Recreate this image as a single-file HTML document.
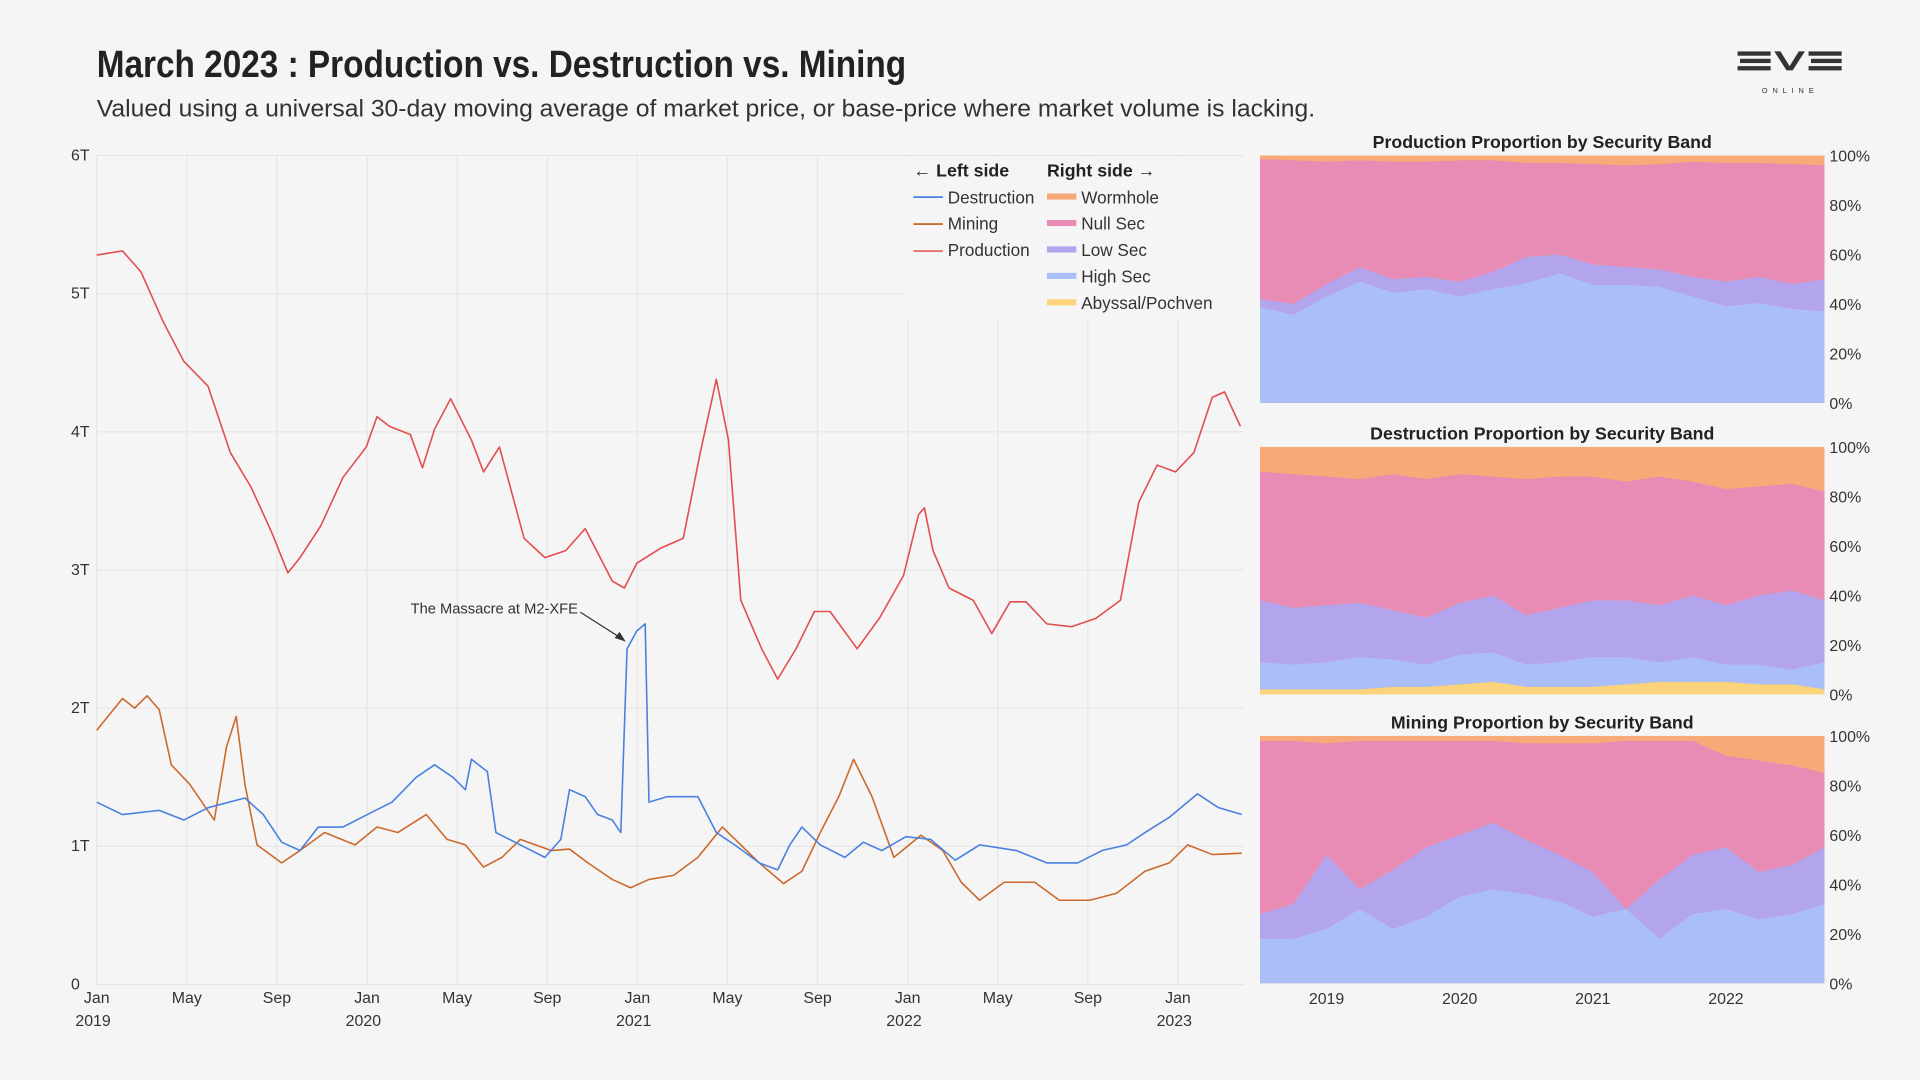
<!DOCTYPE html>
<html><head><meta charset="utf-8"><style>
html,body{margin:0;padding:0;background:#f5f5f5;}
svg{display:block;font-family:"Liberation Sans Narrow","Liberation Sans",sans-serif;}
</style></head><body>
<svg id="s" width="1920" height="1080" viewBox="0 0 1568 882" xmlns="http://www.w3.org/2000/svg">
<rect width="1568" height="882" fill="#f5f5f5"/>
<text x="79" y="63" font-size="31" font-weight="bold" fill="#222" textLength="661" lengthAdjust="spacingAndGlyphs">March 2023 : Production vs. Destruction vs. Mining</text>
<text x="79" y="95" font-size="19.5" fill="#333" textLength="995" lengthAdjust="spacingAndGlyphs">Valued using a universal 30-day moving average of market price, or base-price where market volume is lacking.</text>
<g fill="#333">
<rect x="1419" y="42" width="27" height="3.5"/><rect x="1421" y="48" width="25" height="3.5"/><rect x="1419" y="54" width="27" height="3.5"/>
<polygon points="1449,42 1454,42 1461.5,54 1469,42 1474,42 1464,57.5 1459,57.5"/>
<rect x="1477" y="42" width="27" height="3.5"/><rect x="1479" y="48" width="25" height="3.5"/><rect x="1477" y="54" width="27" height="3.5"/>
<text x="1462" y="76" font-size="6" text-anchor="middle" letter-spacing="4" font-family="Liberation Sans">ONLINE</text>
</g>
<g id="main"></g>
<g id="panels"></g>
</svg>
<script>
// ---------- main chart data (years since Jan 2019, values in trillions ISK)
const prodT=[0,.095,.163,.245,.322,.412,.494,.571,.648,.707,.752,.829,.911,.997,1.037,1.083,1.160,1.205,1.250,1.309,1.386,1.431,1.490,1.581,1.658,1.735,1.807,1.907,1.952,1.998,2.088,2.170,2.233,2.292,2.337,2.383,2.460,2.519,2.587,2.655,2.713,2.813,2.895,2.985,3.040,3.062,3.094,3.153,3.243,3.311,3.379,3.438,3.515,3.606,3.696,3.787,3.855,3.923,3.991,4.059,4.127,4.172,4.231];
const prodV=[5.28,5.31,5.16,4.8,4.51,4.33,3.85,3.6,3.27,2.98,3.09,3.32,3.67,3.89,4.11,4.04,3.98,3.74,4.02,4.24,3.94,3.71,3.89,3.23,3.09,3.14,3.30,2.92,2.87,3.05,3.16,3.23,3.85,4.38,3.94,2.78,2.43,2.21,2.43,2.7,2.7,2.43,2.65,2.96,3.4,3.45,3.14,2.87,2.78,2.54,2.77,2.77,2.61,2.59,2.65,2.78,3.49,3.76,3.71,3.85,4.25,4.29,4.04];
const destT=[0,.095,.231,.322,.412,.548,.616,.684,.752,.820,.911,1.001,1.092,1.182,1.250,1.318,1.364,1.386,1.445,1.477,1.567,1.658,1.717,1.749,1.807,1.853,1.907,1.939,1.962,1.998,2.029,2.043,2.111,2.224,2.292,2.360,2.451,2.519,2.564,2.609,2.677,2.768,2.836,2.904,2.994,3.085,3.176,3.266,3.402,3.515,3.629,3.719,3.810,3.878,3.968,4.072,4.150,4.236];
const destV=[1.32,1.23,1.26,1.19,1.28,1.35,1.23,1.03,0.97,1.14,1.14,1.23,1.32,1.50,1.59,1.50,1.41,1.63,1.54,1.10,1.01,0.92,1.05,1.41,1.36,1.23,1.19,1.10,2.43,2.56,2.61,1.32,1.36,1.36,1.10,1.01,0.88,0.83,1.01,1.14,1.01,0.92,1.03,0.97,1.07,1.05,0.90,1.01,0.97,0.88,0.88,0.97,1.01,1.10,1.21,1.38,1.28,1.23];
const mineT=[0,.095,.140,.186,.231,.276,.344,.435,.480,.516,.548,.593,.684,.752,.843,.956,1.037,1.114,1.219,1.296,1.364,1.431,1.499,1.567,1.681,1.749,1.817,1.907,1.975,2.043,2.134,2.224,2.315,2.383,2.451,2.541,2.609,2.677,2.745,2.800,2.868,2.949,3.049,3.130,3.198,3.266,3.357,3.470,3.561,3.674,3.773,3.878,3.968,4.036,4.127,4.236];
const mineV=[1.84,2.07,2.0,2.09,1.99,1.59,1.45,1.19,1.72,1.94,1.45,1.01,0.88,0.97,1.10,1.01,1.14,1.10,1.23,1.05,1.01,0.85,0.92,1.05,0.97,0.98,0.88,0.76,0.70,0.76,0.79,0.92,1.14,1.01,0.88,0.73,0.82,1.10,1.36,1.63,1.36,0.92,1.08,0.97,0.74,0.61,0.74,0.74,0.61,0.61,0.66,0.82,0.88,1.01,0.94,0.95];
const yTickLabels=["0","1T","2T","3T","4T","5T","6T"];
const monthLabels=["Jan","May","Sep"];
const yearLabels=["2019","2020","2021","2022","2023"];
// ---------- proportion panels data (quarterly from 2018.5), % shares per band
const panelT=[2018.5,2018.75,2019,2019.25,2019.5,2019.75,2020,2020.25,2020.5,2020.75,2021,2021.25,2021.5,2021.75,2022,2022.25,2022.5,2022.75];
const prodAbyssal=[0,0,0,0,0,0,0,0,0,0,0,0,0,0,0,0,0,0];
const prodHigh=[38.6,35.7,43,49,44.5,46,43,46,48.4,52.4,47.7,47.7,47,43,39,40.3,38,37];
const prodLow=[3.4,4.3,5,6,5.5,5,6,7,10.6,7.6,8.3,7.3,7,8,10,10.7,10,13];
const prodNull=[56.5,58,49.5,43,47.5,46.5,49,45,38,37,40.5,41,42.5,46.5,48,46,48.5,46];
const destAbyssal=[2,2,2,2,3,3,4,5,3,3,3,4,5,5,5,4,4,2];
const destHigh=[11,10,11,13,11,9,12,12,9,10,12,11,8,10,7,8,6,11];
const destLow=[25,23,23,22,20,19,21,23,20,22,23,23,23,25,24,28,32,25];
const destNull=[52,54,52,50,55,56,52,48,55,53,50,48,52,46,47,44,43,44];
const mineAbyssal=[0,0,0,0,0,0,0,0,0,0,0,0,0,0,0,0,0,0];
const mineHigh=[18,18,22,30,22,27,35,38,36,33,27,30,18,28,30,26,28,32];
const mineLow=[10,14,30,8,24,28,25,27,22,19,18,0,24,24,25,19,20,23];
const mineNull=[70,66,45,60,52,43,38,33,39,45,52,68,56,46,37,45,40,30];
const pctLabels=["0%","20%","40%","60%","80%","100%"];
const panelYears=["2019","2020","2021","2022"];
const panelTitles=["Production Proportion by Security Band","Destruction Proportion by Security Band","Mining Proportion by Security Band"];

const NS="http://www.w3.org/2000/svg";
function mk(tag,attrs,parent,txt){const e=document.createElementNS(NS,tag);for(const k in attrs)e.setAttribute(k,attrs[k]);if(txt!==undefined)e.textContent=txt;parent.appendChild(e);return e;}
const main=document.getElementById('main');
const X0=79,YR=220.75,Y0=804,TPX=112.83;
const xM=t=>X0+t*YR, yM=v=>Y0-v*TPX;
// gridlines
for(let y=0;y<=4;y++)for(let m=0;m<3;m++){const t=y+m*4/12;if(t>4.24)continue;
 const g=mk('line',{x1:xM(t),x2:xM(t),y1:yM(6),y2:Y0,stroke:'#e6e6e6','stroke-width':1},main);
 
 const l=mk('text',{x:xM(t),y:819,'font-size':13,'text-anchor':'middle',fill:'#333'},main,monthLabels[m]);
 
 if(m===0){const yl=mk('text',{x:xM(t)-3,y:838,'font-size':13,'text-anchor':'middle',fill:'#333'},main,yearLabels[y]);
 }
}
yTickLabels.forEach((lab,i)=>{
 const g=mk('line',{x1:X0,x2:1016,y1:yM(i),y2:yM(i),stroke:'#e6e6e6','stroke-width':1},main);
 
 const t=mk('text',{x:58,y:yM(i)+(i===0?4:4),'font-size':13,fill:'#333'},main,lab);
 
});
function line(T,V,color,name){const d=T.map((t,i)=>(i?'L':'M')+xM(t).toFixed(1)+','+yM(V[i]).toFixed(1)).join('');
 const p=mk('path',{d:d,fill:'none',stroke:color,'stroke-width':1.3,'stroke-linejoin':'round'},main);
 }
line(mineT,mineV,'#cc6a2c','mining-line');
line(prodT,prodV,'#e24e4e','production-line');
line(destT,destV,'#4a80e0','destruction-line');
// annotation
const an=mk('text',{x:472,y:501,'font-size':12,'text-anchor':'end',fill:'#333'},main,'The Massacre at M2-XFE');

const al=mk('line',{x1:474,y1:500,x2:507,y2:521,stroke:'#333','stroke-width':1},main);

mk('polygon',{points:'511,524 502,521 506,516',fill:'#333'},main);
// legend
const lg=mk('g',{},main);
mk('rect',{x:740,y:128,width:276,height:133,fill:'#f5f5f5'},lg);
mk('text',{x:746,y:144,'font-size':14.5,'font-weight':'bold',fill:'#222'},lg,'← Left side');
mk('text',{x:855,y:144,'font-size':14.5,'font-weight':'bold',fill:'#222'},lg,'Right side →');
[['Destruction','#4a80e0'],['Mining','#cc6a2c'],['Production','#e87070']].forEach((e,i)=>{
 const g=mk('g',{},lg);
 mk('line',{x1:746,x2:770,y1:161+i*22,y2:161+i*22,stroke:e[1],'stroke-width':1.5},g);
 mk('text',{x:774,y:166+i*21.5,'font-size':14,fill:'#333'},g,e[0]);});
[['Wormhole','#f7a978'],['Null Sec','#e88bb5'],['Low Sec','#b3a4ee'],['High Sec','#aabffa'],['Abyssal/Pochven','#fad37a']].forEach((e,i)=>{
 const g=mk('g',{},lg);
 mk('rect',{x:855,y:158+i*21.6,width:24,height:5,fill:e[1]},g);
 mk('text',{x:883,y:166+i*21.6,'font-size':14,fill:'#333'},g,e[0]);});
// ---------- panels
const panels=document.getElementById('panels');
const PX0=1029,PW=461,PH=202,PT0=2018.5,PT1=2022.74;
const xP=t=>PX0+(Math.min(t,PT1)-PT0)/(PT1-PT0)*PW;
const tops=[127,365,601];
const sets=[[prodAbyssal,prodHigh,prodLow,prodNull],[destAbyssal,destHigh,destLow,destNull],[mineAbyssal,mineHigh,mineLow,mineNull]];
const bandColors=['#fad37a','#aabffa','#b3a4ee','#e88bb5'];
const bandNames=['abyssal-area','high-sec-area','low-sec-area','null-sec-area'];
sets.forEach((bands,pi)=>{
 const top=tops[pi];const yP=p=>top+PH-p/100*PH;
 const g=mk('g',{},panels);
 const tt=mk('text',{x:PX0+PW/2,y:top-6,'font-size':14.5,'font-weight':'bold','text-anchor':'middle',fill:'#222'},g,panelTitles[pi]);
 
 const wr=mk('rect',{x:PX0,y:top,width:PW,height:PH,fill:'#f7a978'},g);
 
 let cum=panelT.map(()=>0);
 bands.forEach((b,bi)=>{
  const lo=cum.slice();cum=cum.map((c,i)=>c+b[i]);
  let d='M'+panelT.map((t,i)=>xP(t).toFixed(1)+','+yP(cum[i]).toFixed(1)).join('L');
  for(let i=panelT.length-1;i>=0;i--)d+='L'+xP(panelT[i]).toFixed(1)+','+yP(lo[i]).toFixed(1);
  const p=mk('path',{d:d+'Z',fill:bandColors[bi]},g);
  
 });
 // redraw null so it overrides: fill rest above low handled by wormhole rect only where cum<100
 pctLabels.forEach((lab,i)=>{const t=mk('text',{x:1494,y:yP(i*20)+5,'font-size':13,fill:'#333'},g,lab);
  });
});
panelYears.forEach(y=>{const t=mk('text',{x:xP(+y),y:820,'font-size':13,'text-anchor':'middle',fill:'#333'},panels,y);
 });
</script>
</body></html>
